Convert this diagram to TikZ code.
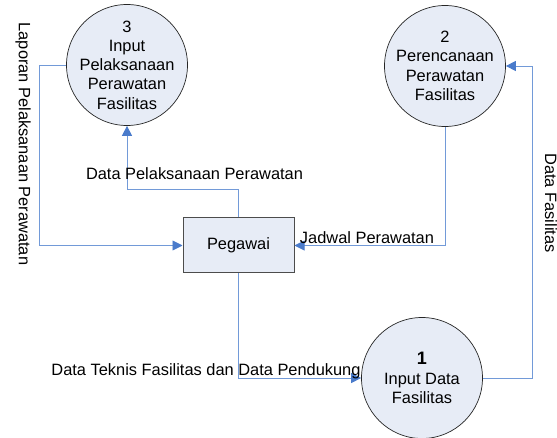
\documentclass[tikz,border=0pt]{standalone}
\usepackage{fontspec}
\setmainfont{Liberation Sans}
\usetikzlibrary{arrows.meta}
\definecolor{procfill}{HTML}{E7ECF6}
\definecolor{flowline}{HTML}{729AD8}
\definecolor{flowtip}{HTML}{4A7BCB}
\begin{document}
\begin{tikzpicture}[x=1pt,y=-1pt,
	every node/.style={font=\fontsize{16.4}{19.3}\selectfont,inner sep=0pt},
	proc/.style={circle,draw=black!85,fill=procfill,line width=0.7pt,
	minimum size=121pt,inner sep=-8pt,align=center},
	entity/.style={rectangle,draw=black!70,fill=procfill,line width=1pt,
	minimum width=111pt,minimum height=55pt},
	flow/.style={draw=flowline,line width=0.9pt,
	-{Triangle[length=10pt,width=10pt,fill=flowtip,color=flowtip]}}]
\useasboundingbox (0,0) rectangle (557,438);
% processes and the one entity
\node[proc] (p3) at (127,65) {3\\Input\\Pelaksanaan\\Perawatan\\Fasilitas};
\node[proc] (p2) at (445,66) {2\\Perencanaan\\Perawatan\\Fasilitas};
\node[proc] (p1) at (422,378) {\fontsize{18}{19.3}\selectfont\bfseries 1\\Input Data\\Fasilitas};
\node[entity] (pegawai) at (238.5,245.5) {Pegawai};
% data flows
\draw[flow] (p3.west) -- ++(-27,0) |- (pegawai.west);
\draw[flow] (pegawai.north) -- ++(0,-28) -| (p3.south);
\draw[flow] (p2.south) |- (pegawai.east);
\draw[flow] (pegawai.south) |- (p1.west);
\draw[flow] (p1.east) -- ++(49.5,0) |- (p2.east);
% flow labels
\node[rotate=-90] (laporan) at (23,144) {Laporan Pelaksanaan Perawatan};
\node (pelaksanaan) at (194.5,174) {Data Pelaksanaan Perawatan};
\node (jadwal) at (367,238) {Jadwal Perawatan};
\node (teknis) at (206,371) {Data Teknis Fasilitas dan Data Pendukung};
\node[rotate=-90] (fasilitas) at (551,203) {Data Fasilitas};
\end{tikzpicture}
\end{document}
